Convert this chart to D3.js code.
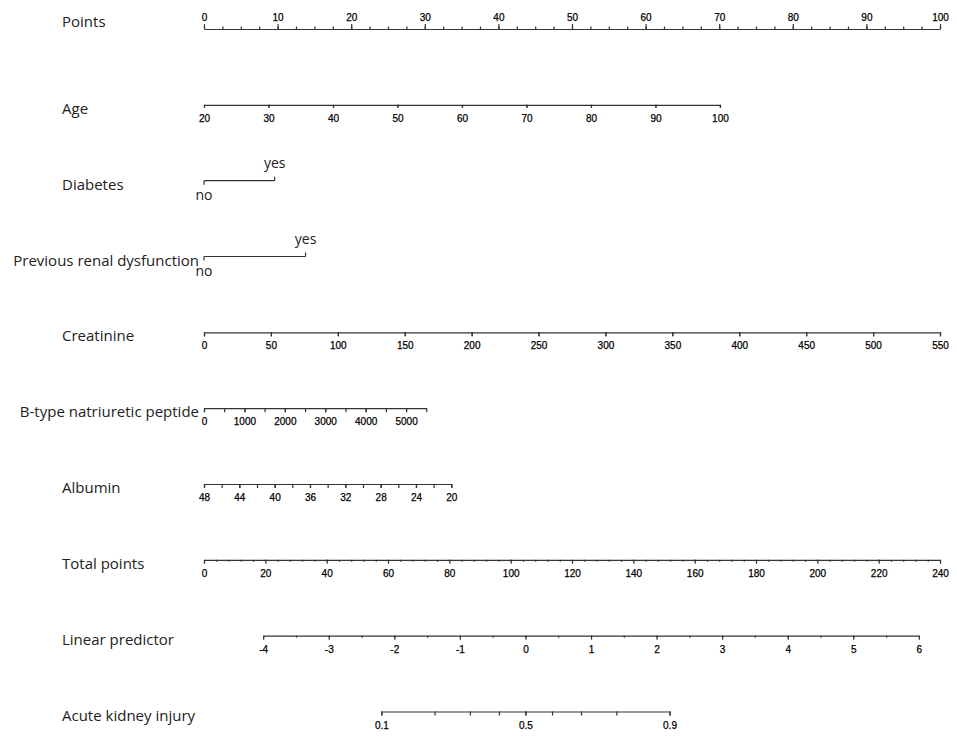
<!DOCTYPE html>
<html>
<head>
<meta charset="utf-8">
<script src="https://cdn.jsdelivr.net/npm/d3@7/dist/d3.min.js"></script>
<style>
  body { margin: 0; background: #fff; }
  .row-label { font-family: "Open Sans", "Noto Sans", sans-serif; font-size: 15px; fill: #222; }
  .lvl-label { font-family: "Open Sans", "Noto Sans", sans-serif; font-size: 14px; fill: #222; }
  .tick text { font-family: "Liberation Sans", Arial, sans-serif; font-size: 10px; fill: #000; stroke: #000; stroke-width: 0.25px; }
  .tick line, .domain, .cat line { stroke: #333; stroke-width: 1.2; }
</style>
</head>
<body>
<div id="chart"></div>
<script>
// row names, top to bottom
var rowNames = ["Points", "Age", "Diabetes", "Previous renal dysfunction", "Creatinine",
                "B-type natriuretic peptide", "Albumin", "Total points", "Linear predictor", "Acute kidney injury"];

// points scale
var pointsRange = [0, 100];
var pointsMinor = d3.range(0, 100.01, 2.5);
var pointsMajor = [0, 10, 20, 30, 40, 50, 60, 70, 80, 90, 100];

// continuous predictors: value range and the points at each end
var ageRange = [20, 100], agePoints = [0, 70.1];
var ageTicks = [20, 30, 40, 50, 60, 70, 80, 90, 100];

var creatRange = [0, 550], creatPoints = [0, 100];
var creatTicks = [0, 50, 100, 150, 200, 250, 300, 350, 400, 450, 500, 550];

var bnpRange = [0, 5500], bnpPoints = [0, 30.2];
var bnpMinor = [0, 500, 1000, 1500, 2000, 2500, 3000, 3500, 4000, 4500, 5000, 5500];
var bnpMajor = [0, 1000, 2000, 3000, 4000, 5000];

var albRange = [48, 20], albPoints = [0, 33.6];
var albMinor = [48, 46, 44, 42, 40, 38, 36, 34, 32, 30, 28, 26, 24, 22, 20];
var albMajor = [48, 44, 40, 36, 32, 28, 24, 20];

// categorical predictors
var diabetesLevels = ["no", "yes"], diabetesPoints = [0, 9.6];
var renalLevels = ["no", "yes"], renalPoints = [0, 13.8];

// total points
var totalRange = [0, 240];
var totalMinor = d3.range(0, 240.01, 4);
var totalMajor = [0, 20, 40, 60, 80, 100, 120, 140, 160, 180, 200, 220, 240];

// linear predictor, placed on the total points scale
var lpRange = [-4, 6], lpTotal = [19.3, 233.1];
var lpMinor = [-4, -3.5, -3, -2.5, -2, -1.5, -1, -0.5, 0, 0.5, 1, 1.5, 2, 2.5, 3, 3.5, 4, 4.5, 5, 5.5, 6];
var lpMajor = [-4, -3, -2, -1, 0, 1, 2, 3, 4, 5, 6];

// acute kidney injury probability
var akiTicks = [0.1, 0.2, 0.3, 0.4, 0.5, 0.6, 0.7, 0.8, 0.9];
var akiLabels = [0.1, 0.5, 0.9];

var width = 957, height = 740;
var svg = d3.select("#chart").append("svg").attr("width", width).attr("height", height);

var xPoints = d3.scaleLinear().domain(pointsRange).range([204, 940]);
var xTotal = d3.scaleLinear().domain(totalRange).range([204, 940]);
var rowY = d3.scaleLinear().domain([0, rowNames.length - 1]).range([29, 711.5]);

function drawAxis(row, scale, minor, major, fmt, minorLen, majorLen, top) {
  var g = svg.append("g").attr("transform", "translate(0," + rowY(row) + ")");
  var mk = top ? d3.axisTop : d3.axisBottom;
  g.append("g").call(mk(scale).tickValues(minor).tickSize(minorLen).tickSizeOuter(0).tickFormat(""));
  var a = g.append("g").call(mk(scale).tickValues(major).tickSize(majorLen).tickSizeOuter(0)
      .tickFormat(fmt || function(d) { return d; }));
  a.select(".domain").remove();
  if (top) a.selectAll("text").attr("y", -7).attr("dy", "-0.15em");
  else a.selectAll("text").attr("y", 10).attr("dy", "0.71em");
  return g;
}

function drawCat(row, levels, pts) {
  var x = d3.scaleOrdinal().domain(levels).range(pts.map(xPoints));
  var y = rowY(row);
  var g = svg.append("g").attr("class", "cat");
  g.append("line").attr("x1", x(levels[0])).attr("x2", x(levels[levels.length - 1]))
    .attr("y1", y).attr("y2", y);
  levels.forEach(function(l, i) {
    var up = i % 2 === 1;
    g.append("line").attr("x1", x(l)).attr("x2", x(l)).attr("y1", y).attr("y2", up ? y - 4 : y + 4);
    g.append("text").attr("class", "lvl-label").attr("x", x(l)).attr("y", up ? y - 13 : y + 19)
      .attr("text-anchor", "middle").text(l);
  });
}

function predictor(range, pts) {
  return d3.scaleLinear().domain(range).range(pts.map(xPoints));
}

drawAxis(0, xPoints, pointsMinor, pointsMajor, null, 2.5, 5, true);
drawAxis(1, predictor(ageRange, agePoints), ageTicks, ageTicks, null, 3, 3, false);
drawCat(2, diabetesLevels, diabetesPoints);
drawCat(3, renalLevels, renalPoints);
drawAxis(4, predictor(creatRange, creatPoints), creatTicks, creatTicks, null, 4, 4, false);
drawAxis(5, predictor(bnpRange, bnpPoints), bnpMinor, bnpMajor, null, 4, 4, false);
drawAxis(6, predictor(albRange, albPoints), albMinor, albMajor, null, 4, 4, false);
drawAxis(7, xTotal, totalMinor, totalMajor, null, 2, 4, false);

var xLp = d3.scaleLinear().domain(lpRange).range(lpTotal.map(xTotal));
drawAxis(8, xLp, lpMinor, lpMajor, null, 2, 4, false);

var logit = function(p) { return Math.log(p / (1 - p)); };
var expit = function(v) { return 1 / (1 + Math.exp(-v)); };
var akiDom = [logit(akiTicks[0]), logit(akiTicks[akiTicks.length - 1])];
var xAki = d3.scaleLinear().domain(akiDom).range(akiDom.map(xLp));
drawAxis(9, xAki, akiTicks.map(logit), akiLabels.map(logit),
  function(v) { return d3.format(".1f")(expit(v)); }, 4, 4, false);

// row labels
svg.selectAll("text.row-label").data(rowNames).enter().append("text")
  .attr("class", "row-label")
  .attr("y", function(d, i) { return i === 0 ? rowY(i) - 8 : rowY(i) + 3; })
  .attr("dominant-baseline", "central")
  .text(function(d) { return d; })
  .attr("x", function() {
    var w = this.getComputedTextLength();
    return 62 + w > 200 ? 199 - w : 62;
  });
</script>
</body>
</html>
